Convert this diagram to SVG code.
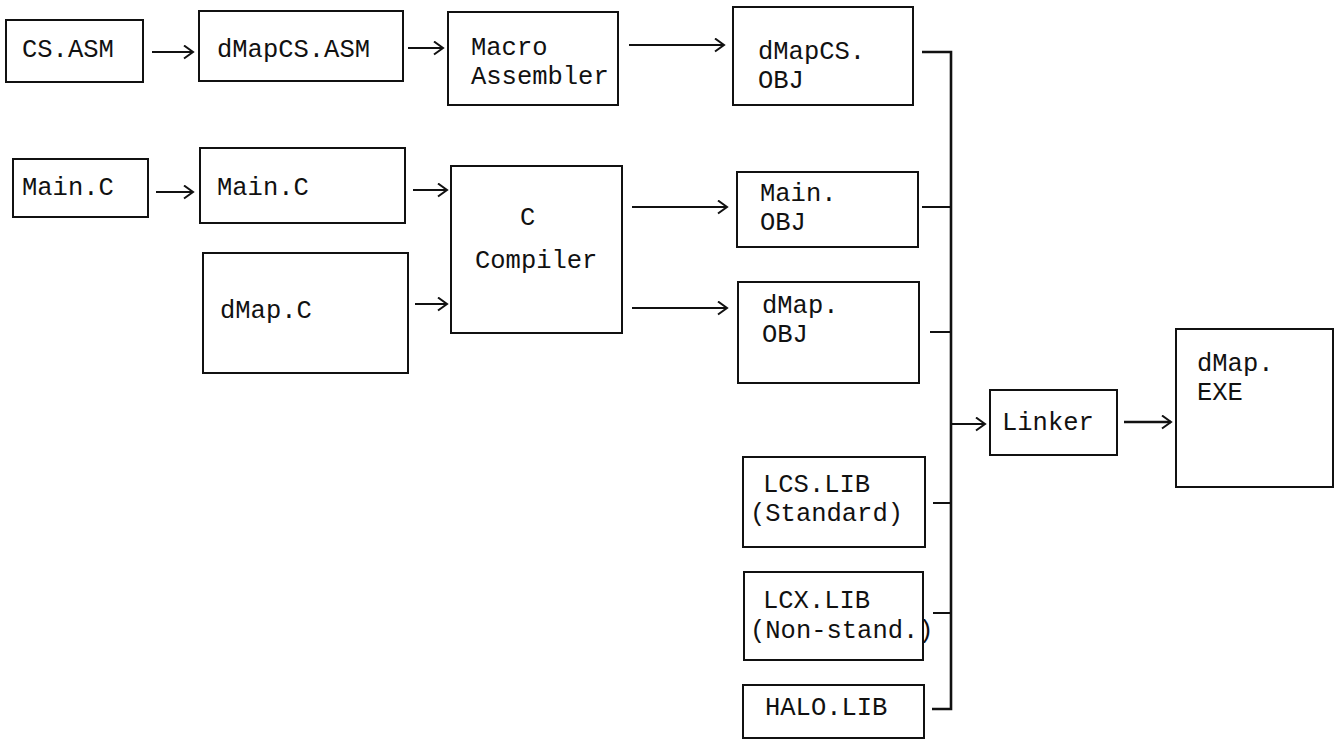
<svg xmlns="http://www.w3.org/2000/svg" width="1338" height="740" viewBox="0 0 1338 740">
<style>
.box{fill:none;stroke:#111;stroke-width:2}
.t{font-family:"Liberation Mono","DejaVu Sans Mono",monospace;font-size:25.5px;fill:#111}
.c{fill:none;stroke:#111;stroke-width:2}
.bus{fill:none;stroke:#111;stroke-width:2.6}
</style>
<defs>
<marker id="ah" markerUnits="userSpaceOnUse" markerWidth="14" markerHeight="16" refX="10" refY="7" orient="auto">
<path d="M1,0.5 L10,7 L1,13.5" fill="none" stroke="#111" stroke-width="2"/>
</marker>
</defs>
<rect width="1338" height="740" fill="#fff"/>
<g id="cs_asm"><rect class="box" x="6" y="20" width="137" height="62"/><text class="t" x="22" y="57">CS.ASM</text></g>
<g id="dmapcs_asm"><rect class="box" x="199" y="11" width="204" height="70"/><text class="t" x="217" y="57">dMapCS.ASM</text></g>
<g id="macro_assembler"><rect class="box" x="448" y="12" width="170" height="93"/><text class="t" x="471" y="55">Macro</text><text class="t" x="471" y="84">Assembler</text></g>
<g id="dmapcs_obj"><rect class="box" x="733" y="7" width="180" height="98"/><text class="t" x="758" y="59">dMapCS.</text><text class="t" x="758" y="88">OBJ</text></g>
<g id="main_c_src"><rect class="box" x="13" y="159" width="135" height="58"/><text class="t" x="22" y="195">Main.C</text></g>
<g id="main_c"><rect class="box" x="200" y="148" width="205" height="75"/><text class="t" x="217" y="195">Main.C</text></g>
<g id="dmap_c"><rect class="box" x="203" y="253" width="205" height="120"/><text class="t" x="220" y="318">dMap.C</text></g>
<g id="c_compiler"><rect class="box" x="451" y="166" width="171" height="167"/><text class="t" x="520" y="225">C</text><text class="t" x="475" y="268">Compiler</text></g>
<g id="main_obj"><rect class="box" x="737" y="172" width="181" height="75"/><text class="t" x="760" y="201">Main.</text><text class="t" x="760" y="230">OBJ</text></g>
<g id="dmap_obj"><rect class="box" x="738" y="282" width="181" height="101"/><text class="t" x="762" y="313">dMap.</text><text class="t" x="762" y="342">OBJ</text></g>
<g id="linker"><rect class="box" x="990" y="390" width="127" height="65"/><text class="t" x="1002" y="430">Linker</text></g>
<g id="dmap_exe"><rect class="box" x="1176" y="329" width="157" height="158"/><text class="t" x="1197" y="371">dMap.</text><text class="t" x="1197" y="400">EXE</text></g>
<g id="lcs_lib"><rect class="box" x="743" y="457" width="182" height="90"/><text class="t" x="763" y="492">LCS.LIB</text><text class="t" x="750" y="521">(Standard)</text></g>
<g id="lcx_lib"><rect class="box" x="744" y="572" width="179" height="88"/><text class="t" x="763" y="608">LCX.LIB</text><text class="t" x="750" y="638">(Non-stand.)</text></g>
<g id="halo_lib"><rect class="box" x="743" y="685" width="181" height="53"/><text class="t" x="765" y="715">HALO.LIB</text></g>
<g id="connectors">
<line class="c" x1="152" y1="52" x2="193" y2="52" marker-end="url(#ah)"/>
<line class="c" x1="408" y1="48" x2="443" y2="48" marker-end="url(#ah)"/>
<line class="c" x1="629" y1="45" x2="724" y2="45" marker-end="url(#ah)"/>
<line class="c" x1="156" y1="192" x2="193" y2="192" marker-end="url(#ah)"/>
<line class="c" x1="413" y1="190" x2="447" y2="190" marker-end="url(#ah)"/>
<line class="c" x1="415" y1="304" x2="447" y2="304" marker-end="url(#ah)"/>
<line class="c" x1="632" y1="207" x2="727" y2="207" marker-end="url(#ah)"/>
<line class="c" x1="632" y1="308" x2="727" y2="308" marker-end="url(#ah)"/>
<path class="bus" d="M922,52 H951 V709 H932"/>
<path class="c" d="M922,207 H951"/>
<path class="c" d="M930,332 H951"/>
<path class="c" d="M933,503 H951"/>
<path class="c" d="M933,613 H951"/>
<line class="c" x1="951" y1="424" x2="985" y2="424" marker-end="url(#ah)"/>
<line class="bus" x1="1124" y1="422" x2="1171" y2="422" marker-end="url(#ah)"/>
</g>
</svg>
